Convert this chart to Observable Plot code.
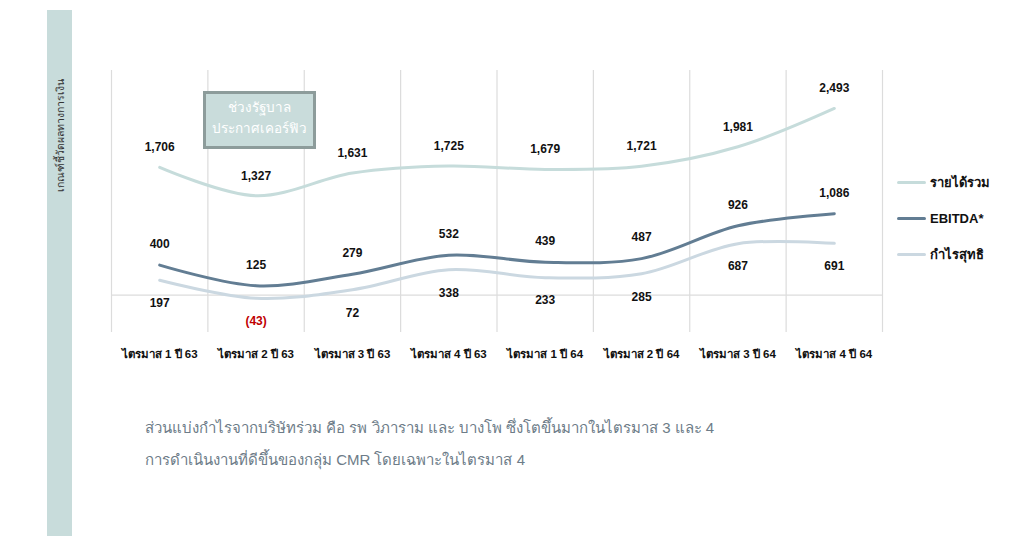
<!DOCTYPE html>
<html><head><meta charset="utf-8">
<script src="https://cdn.jsdelivr.net/npm/d3@7"></script>
<script src="https://cdn.jsdelivr.net/npm/@observablehq/plot@0.6"></script>
<style>
body{margin:0;background:#fff;font-family:"Liberation Sans",Arial,"Noto Sans",sans-serif;}
#wrap{position:relative;width:1009px;height:536px;overflow:hidden;background:#fff;}
#wrap svg{position:absolute;left:0;top:0;}
.side{position:absolute;left:47px;top:10px;width:25px;height:526px;background:#c8dcdb;}
.sidetext{position:absolute;left:60px;top:135px;transform:translate(-50%,-50%) rotate(-90deg);white-space:nowrap;font-size:10.5px;color:#333;}
.note{position:absolute;left:203px;top:91px;width:113px;height:58px;box-sizing:border-box;background:#c9dcdb;border:3px solid #8d9c9b;color:#fff;font-size:13.5px;line-height:21px;text-align:center;padding-top:3px;}
.legend{position:absolute;left:897px;top:164px;}
.legend .item{display:flex;align-items:center;height:36px;font-size:13px;font-weight:bold;color:#111;}
.legend .sw{width:29px;height:3px;margin-right:4px;border-radius:2px;}
.caption{position:absolute;left:145px;top:412px;font-size:15px;color:#6d7c88;line-height:32px;}
</style></head><body>
<div id="wrap"></div>
<script>
const quarters = ["ไตรมาส 1 ปี 63","ไตรมาส 2 ปี 63","ไตรมาส 3 ปี 63","ไตรมาส 4 ปี 63","ไตรมาส 1 ปี 64","ไตรมาส 2 ปี 64","ไตรมาส 3 ปี 64","ไตรมาส 4 ปี 64"];
const revenue = [1706,1327,1631,1725,1679,1721,1981,2493];
const ebitda = [400,125,279,532,439,487,926,1086];
const netProfit = [197,-43,72,338,233,285,687,691];
const seriesNames = ["รายได้รวม","EBITDA*","กำไรสุทธิ"];
const seriesColors = ["#c6dcdb","#627d93","#cbd8e1"];
const labelOffsets = [-20,-21,23];
const sideLabel = "เกณฑ์ชี้วัดผลทางการเงิน";
const noteLines = ["ช่วงรัฐบาล","ประกาศเคอร์ฟิว"];
const captionLines = ["ส่วนแบ่งกำไรจากบริษัทร่วม คือ รพ วิภาราม และ บางโพ ซึ่งโตขึ้นมากในไตรมาส  3 และ 4","การดำเนินงานที่ดีขึ้นของกลุ่ม  CMR โดยเฉพาะในไตรมาส  4"];

const allSeries = [revenue, ebitda, netProfit];
const rows = allSeries.map((vals, s) => vals.map((v, i) => ({i, s, value: v})));
const fmt = d3.format(",");
const lbl = v => v < 0 ? `(${fmt(-v)})` : fmt(v);

const marks = [
  Plot.ruleX(d3.range(quarters.length + 1), {x: i => i - 0.5, stroke: "#dcdcdc", strokeWidth: 1.2}),
  Plot.ruleY([0], {stroke: "#dcdcdc", strokeWidth: 1.2}),
];
[0,2,1].forEach(s => {
  marks.push(Plot.line(rows[s], {x: "i", y: "value", stroke: seriesColors[s], strokeWidth: 3, curve: "catmull-rom"}));
});
[0,1,2].forEach(s => {
  marks.push(Plot.text(rows[s], {x: "i", y: "value", text: d => lbl(d.value), dy: labelOffsets[s], fill: d => d.value < 0 ? "#c00000" : "#111", fontSize: 12, fontWeight: "bold"}));
});
marks.push(Plot.axisX({ticks: d3.range(quarters.length), tickFormat: i => quarters[i], tickSize: 0, tickPadding: 17, fontSize: 11.5, fontWeight: "bold", fill: "#111", label: null}));

const chart = Plot.plot({
  width: 1009, height: 536,
  marginLeft: 111, marginRight: 127, marginTop: 70, marginBottom: 204,
  x: {type: "linear", domain: [-0.5, quarters.length - 0.5], axis: null},
  y: {domain: [-500, 3000], axis: null},
  style: {fontFamily: '"Liberation Sans", Arial, "Noto Sans", sans-serif', background: "transparent"},
  marks
});
const wrap = document.getElementById("wrap");
const side = document.createElement("div"); side.className = "side"; wrap.appendChild(side);
const st = document.createElement("div"); st.className = "sidetext"; st.textContent = sideLabel; wrap.appendChild(st);
wrap.appendChild(chart);
const note = document.createElement("div"); note.className = "note"; note.innerHTML = noteLines.join("<br>"); wrap.appendChild(note);
const legend = document.createElement("div"); legend.className = "legend";
seriesNames.forEach((n, s) => {
  const it = document.createElement("div"); it.className = "item";
  const sw = document.createElement("span"); sw.className = "sw"; sw.style.background = seriesColors[s];
  const t = document.createElement("span"); t.textContent = n;
  it.appendChild(sw); it.appendChild(t); legend.appendChild(it);
});
wrap.appendChild(legend);
const cap = document.createElement("div"); cap.className = "caption"; cap.innerHTML = captionLines.join("<br>"); wrap.appendChild(cap);
</script>
</body></html>
